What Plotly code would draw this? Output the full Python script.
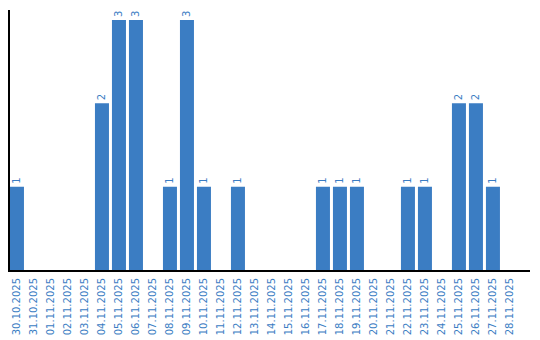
import plotly.graph_objects as go

dates = ["30.10.2025","31.10.2025","01.11.2025","02.11.2025","03.11.2025","04.11.2025",
         "05.11.2025","06.11.2025","07.11.2025","08.11.2025","09.11.2025","10.11.2025",
         "11.11.2025","12.11.2025","13.11.2025","14.11.2025","15.11.2025","16.11.2025",
         "17.11.2025","18.11.2025","19.11.2025","20.11.2025","21.11.2025","22.11.2025",
         "23.11.2025","24.11.2025","25.11.2025","26.11.2025","27.11.2025","28.11.2025"]
counts = [1,0,0,0,0,2,3,3,0,1,3,1,0,1,0,0,0,0,1,1,1,0,0,1,1,0,2,2,1,0]

blue = "#3b7dc3"
labels = [str(v) if v > 0 else "" for v in counts]

fig = go.Figure(go.Bar(
    x=dates, y=counts, marker_color=blue, marker_line_width=0,
    text=labels, textposition="outside", textangle=-90, cliponaxis=False,
    textfont=dict(color=blue, size=10, family="DejaVu Sans"),
))
fig.update_layout(
    width=540, height=340, margin=dict(l=10, r=10, t=10, b=70, autoexpand=False),
    paper_bgcolor="white", plot_bgcolor="white", bargap=0.176, showlegend=False,
    xaxis=dict(type="category", range=[-0.41, 30.18], tickangle=-90, automargin=False,
               tickfont=dict(color=blue, size=10, family="DejaVu Sans"),
               showline=True, linecolor="black", linewidth=2, showgrid=False,
               ticks="outside", ticklen=2, tickcolor="rgba(0,0,0,0)"),
    yaxis=dict(range=[0, 3.12], showticklabels=False, showgrid=False, zeroline=False,
               automargin=False,
               showline=True, linecolor="black", linewidth=2, ticks=""),
)
fig.write_html("out.html")
